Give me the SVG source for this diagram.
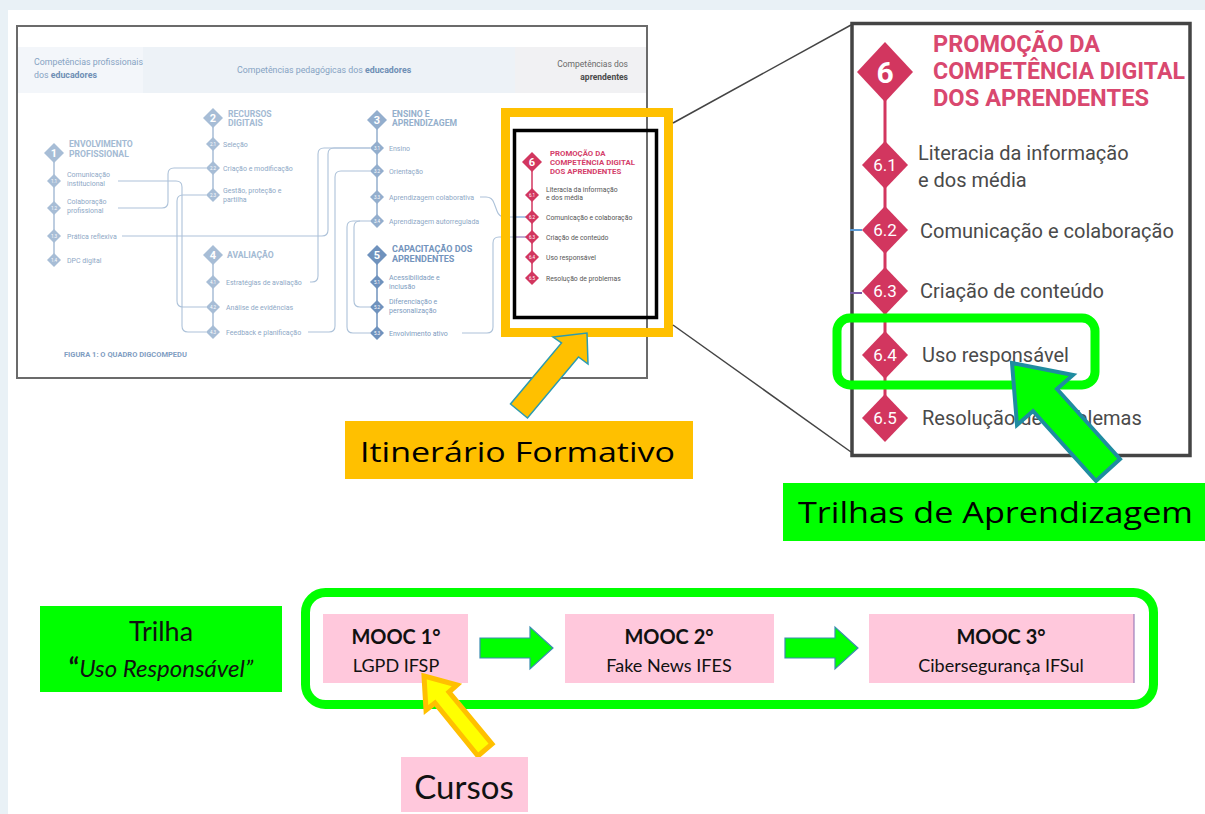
<svg xmlns="http://www.w3.org/2000/svg" xmlns:xlink="http://www.w3.org/1999/xlink" width="1205" height="814" viewBox="0 0 1205 814">
<style>
.ft{font-family:Roboto,"Liberation Sans",sans-serif}
.hd{font-family:Roboto,"Liberation Sans",sans-serif;font-size:8.8px;fill:#86a3c3}
.ch{font-family:Roboto,"Liberation Sans",sans-serif;font-size:8.6px;font-weight:bold;fill:#a3bad3}
.ch3{font-family:Roboto,"Liberation Sans",sans-serif;font-size:8.6px;font-weight:bold;fill:#94afcc}
.ch5{font-family:Roboto,"Liberation Sans",sans-serif;font-size:9px;font-weight:bold;fill:#7394bd}
.st{font-family:Roboto,"Liberation Sans",sans-serif;font-size:7px;fill:#8ea8c6}
.st5{font-family:Roboto,"Liberation Sans",sans-serif;font-size:7px;fill:#7d9bc0}
.pt{font-family:Roboto,"Liberation Sans",sans-serif;font-size:7.8px;font-weight:bold;fill:#d4406a}
.ps{font-family:Roboto,"Liberation Sans",sans-serif;font-size:6.8px;fill:#555}
.dl{font-family:Roboto,"Liberation Sans",sans-serif;font-size:4.5px;fill:#fff;text-anchor:middle}
.dn{font-family:Roboto,"Liberation Sans",sans-serif;font-size:11px;font-weight:bold;fill:#fff;text-anchor:middle}
.lc{fill:none;stroke:#adc2d9;stroke-width:1.1}
.c1{fill:#a7bdd6}.c3{fill:#93aecd}.c5{fill:#6f92bd}.cp{fill:#d2365f}
.rt{font-family:Roboto,"Liberation Sans",sans-serif;font-size:20px;fill:#4a4a4a}
.rtt{font-family:Roboto,"Liberation Sans",sans-serif;font-size:23px;font-weight:bold;fill:#d9486f}
.rdl{font-family:Roboto,"Liberation Sans",sans-serif;font-size:17px;fill:#fff;text-anchor:middle}
.lb{font-family:"Open Sans","Noto Sans",sans-serif;fill:#000}
.bt{font-family:Lato,"Open Sans",sans-serif;fill:#111;text-anchor:middle}
.mbox{fill:#ffc8dc}
.garr{fill:#00ff00;stroke:#3a8db0;stroke-width:1.2}
</style>
<defs>
<path id="dS" d="M0,-7 L7,0 L0,7 L-7,0Z"/>
<path id="dM" d="M0,-10 L10,0 L0,10 L-10,0Z"/>
<path id="dR" d="M0,-24 L23,0 L0,24 L-23,0Z"/>
</defs>
<rect x="0" y="0" width="1205" height="814" fill="#e9f1f6"/>
<rect x="8" y="10" width="1197" height="804" fill="#ffffff"/>

<!-- DigCompEdu figure -->
<g id="figure">
<rect x="17" y="26" width="630" height="352" fill="#fff" stroke="#6b6b6b" stroke-width="2"/>
<rect x="18" y="47" width="125" height="46" fill="#f3f6fa"/>
<rect x="143" y="47" width="372" height="46" fill="#edf2f7"/>
<rect x="515" y="47" width="131" height="46" fill="#f1f1f3"/>
<text class="hd" x="34" y="65">Competências profissionais</text>
<text class="hd" x="34" y="78">dos <tspan font-weight="bold" fill="#6f8fb5">educadores</tspan></text>
<text class="hd" x="237" y="73">Competências pedagógicas dos <tspan font-weight="bold" fill="#6f8fb5">educadores</tspan></text>
<text class="ft" x="628" y="67" font-size="8.5" fill="#6a6a6a" text-anchor="end">Competências dos</text>
<text class="ft" x="628" y="80" font-size="8.5" fill="#4a4a4a" font-weight="bold" text-anchor="end">aprendentes</text>
<text class="ft" x="64" y="357" font-size="7.5" font-weight="bold" fill="#7f9ec2">FIGURA 1: O QUADRO DIGCOMPEDU</text>
</g>

<g id="connectors-small">
<path class="lc" d="M118,181 H176 Q182,181 182,187 V326 Q182,332 188,332 H206"/>
<path class="lc" d="M118,208 H162 Q168,208 168,202 V174 Q168,168 174,168 H206"/>
<path class="lc" d="M206,195 H183 Q177,195 177,201 V301 Q177,307 183,307 H206"/>
<path class="lc" d="M122,236 H322 Q328,236 328,230 V154 Q328,148 334,148 H370"/>
<path class="lc" d="M310,282 H312 Q318,282 318,276 V154 Q318,148 324,148 H370"/>
<path class="lc" d="M308,332 H329 Q335,332 335,326 V177 Q335,171 341,171 H370"/>
<path class="lc" d="M480,197 H486 Q492,197 494,203 L497,211 Q499,217 505,217 H514"/>
<path d="M514,217 H526" stroke="#5b8fd0" stroke-width="1" fill="none"/>
<path class="lc" d="M370,221 H360 Q354,221 354,227 V301 Q354,307 360,307 H370"/>
<path class="lc" d="M360,221 H353 Q347,221 347,227 V327 Q347,333 353,333 H370"/>
<path class="lc" d="M462,333 H487 Q493,333 493,327 V243 Q493,237 499,237 H514"/>
<path d="M514,237 H526" stroke="#7a5ca8" stroke-width="1" fill="none"/>
</g>

<g id="col1">
<path d="M54,153 V260" stroke="#a7bdd6" stroke-width="1.5"/>
<use href="#dM" x="54" y="153" class="c1"/><text class="dn" x="54" y="157">1</text>
<text class="ch" x="69" y="147">ENVOLVIMENTO</text><text class="ch" x="69" y="157">PROFISSIONAL</text>
<use href="#dS" x="54" y="181" class="c1"/><text class="dl" x="54" y="182.5">1.1</text>
<text class="st" x="67" y="177">Comunicação</text><text class="st" x="67" y="186">institucional</text>
<use href="#dS" x="54" y="208" class="c1"/><text class="dl" x="54" y="209.5">1.2</text>
<text class="st" x="67" y="204">Colaboração</text><text class="st" x="67" y="213">profissional</text>
<use href="#dS" x="54" y="236" class="c1"/><text class="dl" x="54" y="237.5">1.3</text>
<text class="st" x="67" y="238.5">Prática reflexiva</text>
<use href="#dS" x="54" y="260" class="c1"/><text class="dl" x="54" y="261.5">1.4</text>
<text class="st" x="67" y="262.5">DPC digital</text>
</g>

<g id="col2">
<path d="M213,118 V195" stroke="#a7bdd6" stroke-width="1.5"/>
<use href="#dM" x="213" y="118" class="c1"/><text class="dn" x="213" y="122">2</text>
<text class="ch" x="228" y="117">RECURSOS</text><text class="ch" x="228" y="126">DIGITAIS</text>
<use href="#dS" x="213" y="144" class="c1"/><text class="dl" x="213" y="145.5">2.1</text>
<text class="st" x="223" y="146.5">Seleção</text>
<use href="#dS" x="213" y="168" class="c1"/><text class="dl" x="213" y="169.5">2.2</text>
<text class="st" x="223" y="170.5">Criação e modificação</text>
<use href="#dS" x="213" y="195" class="c1"/><text class="dl" x="213" y="196.5">2.3</text>
<text class="st" x="223" y="193">Gestão, proteção e</text><text class="st" x="223" y="202">partilha</text>
</g>

<g id="col4">
<path d="M213,255 V332" stroke="#a7bdd6" stroke-width="1.5"/>
<use href="#dM" x="213" y="255" class="c1"/><text class="dn" x="213" y="259">4</text>
<text class="ch" x="227" y="258" font-size="10">AVALIAÇÃO</text>
<use href="#dS" x="213" y="282" class="c1"/><text class="dl" x="213" y="283.5">4.1</text>
<text class="st" x="226" y="284.5">Estratégias de avaliação</text>
<use href="#dS" x="213" y="307" class="c1"/><text class="dl" x="213" y="308.5">4.2</text>
<text class="st" x="226" y="309.5">Análise de evidências</text>
<use href="#dS" x="213" y="332" class="c1"/><text class="dl" x="213" y="333.5">4.3</text>
<text class="st" x="226" y="334.5">Feedback e planificação</text>
</g>

<g id="col3">
<path d="M377,120 V221" stroke="#93aecd" stroke-width="1.5"/>
<use href="#dM" x="377" y="120" class="c3"/><text class="dn" x="377" y="124">3</text>
<text class="ch3" x="392" y="117">ENSINO E</text><text class="ch3" x="392" y="126">APRENDIZAGEM</text>
<use href="#dS" x="377" y="148" class="c3"/><text class="dl" x="377" y="149.5">3.1</text>
<text class="st" x="389" y="150.5">Ensino</text>
<use href="#dS" x="377" y="171" class="c3"/><text class="dl" x="377" y="172.5">3.2</text>
<text class="st" x="389" y="173.5">Orientação</text>
<use href="#dS" x="377" y="197" class="c3"/><text class="dl" x="377" y="198.5">3.3</text>
<text class="st" x="389" y="199.5">Aprendizagem colaborativa</text>
<use href="#dS" x="377" y="221" class="c3"/><text class="dl" x="377" y="222.5">3.4</text>
<text class="st" x="389" y="223.5">Aprendizagem autorregulada</text>
</g>

<g id="col5">
<path d="M377,255 V333" stroke="#6f92bd" stroke-width="1.5"/>
<use href="#dM" x="377" y="255" class="c5"/><text class="dn" x="377" y="259">5</text>
<text class="ch5" x="392" y="252">CAPACITAÇÃO DOS</text><text class="ch5" x="392" y="262">APRENDENTES</text>
<use href="#dS" x="377" y="282" class="c5"/><text class="dl" x="377" y="283.5">5.1</text>
<text class="st5" x="389" y="280">Acessibilidade e</text><text class="st5" x="389" y="289">inclusão</text>
<use href="#dS" x="377" y="307" class="c5"/><text class="dl" x="377" y="308.5">5.2</text>
<text class="st5" x="389" y="304">Diferenciação e</text><text class="st5" x="389" y="313">personalização</text>
<use href="#dS" x="377" y="333" class="c5"/><text class="dl" x="377" y="334.5">5.3</text>
<text class="st5" x="389" y="335.5">Envolvimento ativo</text>
</g>

<g id="col6-small">
<rect x="505.5" y="112.5" width="163" height="220" fill="none" stroke="#ffc000" stroke-width="9"/>
<rect x="514.5" y="130.5" width="142" height="187" fill="none" stroke="#000" stroke-width="3.5"/>
<path d="M532,162 V278" stroke="#d2365f" stroke-width="1.5"/>
<use href="#dM" x="532" y="162" class="cp"/><text class="dn" x="532" y="166">6</text>
<text class="pt" x="550" y="156">PROMOÇÃO DA</text>
<text class="pt" x="550" y="165">COMPETÊNCIA DIGITAL</text>
<text class="pt" x="550" y="174">DOS APRENDENTES</text>
<use href="#dS" x="532" y="195" class="cp"/><text class="dl" x="532" y="196.5">6.1</text>
<text class="ps" x="546" y="192">Literacia da informação</text><text class="ps" x="546" y="200">e dos média</text>
<use href="#dS" x="532" y="217" class="cp"/><text class="dl" x="532" y="218.5">6.2</text>
<text class="ps" x="546" y="219.5">Comunicação e colaboração</text>
<use href="#dS" x="532" y="237" class="cp"/><text class="dl" x="532" y="238.5">6.3</text>
<text class="ps" x="546" y="239.5">Criação de conteúdo</text>
<use href="#dS" x="532" y="257" class="cp"/><text class="dl" x="532" y="258.5">6.4</text>
<text class="ps" x="546" y="259.5">Uso responsável</text>
<use href="#dS" x="532" y="278" class="cp"/><text class="dl" x="532" y="279.5">6.5</text>
<text class="ps" x="546" y="280.5">Resolução de problemas</text>
</g>

<g id="zoom-lines">
<line x1="673" y1="123" x2="851" y2="25" stroke="#444" stroke-width="1.5"/>
<line x1="673" y1="325" x2="851" y2="452" stroke="#444" stroke-width="1.5"/>
</g>

<g id="panel6">
<rect x="852" y="23.5" width="338" height="432" fill="#fff" stroke="#444" stroke-width="3.5"/>
<path d="M850,230 H862" stroke="#5b9bd5" stroke-width="2"/>
<path d="M850,293 H862" stroke="#7a5ca8" stroke-width="2"/>
<path d="M885,72 V418" stroke="#d2365f" stroke-width="3"/>
<path d="M885,42 L913,72 L885,102 L857,72Z" fill="#d2365f"/>
<text x="885" y="83" class="ft" font-size="30" font-weight="bold" fill="#fff" text-anchor="middle">6</text>
<text class="rtt" x="933" y="52" textLength="167" lengthAdjust="spacingAndGlyphs">PROMOÇÃO DA</text>
<text class="rtt" x="933" y="79" textLength="252" lengthAdjust="spacingAndGlyphs">COMPETÊNCIA DIGITAL</text>
<text class="rtt" x="933" y="106" textLength="216" lengthAdjust="spacingAndGlyphs">DOS APRENDENTES</text>
<use href="#dR" x="885" y="165" class="cp"/><text class="rdl" x="885" y="171">6.1</text>
<text class="rt" x="918" y="160">Literacia da informação</text>
<text class="rt" x="918" y="187">e dos média</text>
<use href="#dR" x="885" y="230" class="cp"/><text class="rdl" x="885" y="236">6.2</text>
<text class="rt" x="920" y="238">Comunicação e colaboração</text>
<use href="#dR" x="885" y="291" class="cp"/><text class="rdl" x="885" y="297">6.3</text>
<text class="rt" x="920" y="298">Criação de conteúdo</text>
<use href="#dR" x="885" y="355" class="cp"/><text class="rdl" x="885" y="361">6.4</text>
<text class="rt" x="922" y="362">Uso responsável</text>
<use href="#dR" x="885" y="418" class="cp"/><text class="rdl" x="885" y="424">6.5</text>
<text class="rt" x="922" y="425">Resolução de problemas</text>
<rect x="837" y="318" width="258" height="67" rx="13" fill="none" stroke="#00ff00" stroke-width="9"/>
</g>

<g id="arrow-trilhas">
<path d="M1012,363 L1073,375 L1057,389 L1120,459 L1096,481 L1033,411 L1017,425 Z" fill="#00ff00" stroke="#1f8ca0" stroke-width="4" stroke-linejoin="miter"/>
</g>

<g id="label-trilhas">
<rect x="783" y="483" width="422" height="58" fill="#00ff00"/>
<text class="lb" x="798" y="523" font-size="30" textLength="395" lengthAdjust="spacingAndGlyphs">Trilhas de Aprendizagem</text>
</g>

<g id="arrow-itinerario">
<path d="M587,333 L588,364 L578.5,357 L527.5,418 L510.5,404 L561.5,343 L553,337 Z" fill="#ffc000" stroke="#2b9bb0" stroke-width="1.5"/>
</g>

<g id="label-itinerario">
<rect x="345" y="421" width="348" height="58" fill="#ffc000"/>
<text class="lb" x="360" y="462" font-size="28" textLength="315" lengthAdjust="spacingAndGlyphs">Itinerário Formativo</text>
</g>

<g id="trilha-label">
<rect x="40" y="606" width="242" height="86" fill="#00ff00"/>
<text class="bt" x="161" y="641" font-size="27">Trilha</text>
<text class="bt" x="161" y="677" font-size="24"><tspan font-weight="bold" font-size="27">“</tspan><tspan font-style="italic">Uso Responsável”</tspan></text>
</g>

<g id="trilha-group">
<rect x="305.5" y="592.5" width="848" height="112" rx="20" fill="none" stroke="#00ff00" stroke-width="9"/>
</g>

<g id="mooc1">
<rect class="mbox" x="323" y="614" width="145" height="69"/>
<text class="bt" x="396" y="644" font-size="20" font-weight="bold">MOOC 1°</text>
<text class="bt" x="396" y="672" font-size="18">LGPD IFSP</text>
</g>
<g id="mooc2">
<rect class="mbox" x="565" y="614" width="209" height="69"/>
<text class="bt" x="669" y="644" font-size="20" font-weight="bold">MOOC 2°</text>
<text class="bt" x="669" y="672" font-size="18">Fake News IFES</text>
</g>
<g id="mooc3">
<rect class="mbox" x="869" y="614" width="265" height="69"/>
<line x1="1134" y1="614" x2="1134" y2="683" stroke="#8a6ab0" stroke-width="1"/>
<text class="bt" x="1001" y="644" font-size="20" font-weight="bold">MOOC 3°</text>
<text class="bt" x="1001" y="672" font-size="18">Cibersegurança IFSul</text>
</g>

<g id="connectors">
<path class="garr" d="M480,638 H530 V627 L553,648 L530,669 V658 H480 Z"/>
<path class="garr" d="M785,638 H835 V627 L858,648 L835,669 V658 H785 Z"/>
</g>

<g id="arrow-cursos">
<path d="M424,676 L457,685 L449,692 L492,744 L478,756 L435,703 L426,710 Z" fill="#ffff00" stroke="#ffc000" stroke-width="5" stroke-linejoin="miter"/>
</g>

<g id="label-cursos">
<rect x="401" y="757" width="127" height="55" fill="#ffc8dc"/>
<text class="bt" x="464" y="799" font-size="33">Cursos</text>
</g>
</svg>
